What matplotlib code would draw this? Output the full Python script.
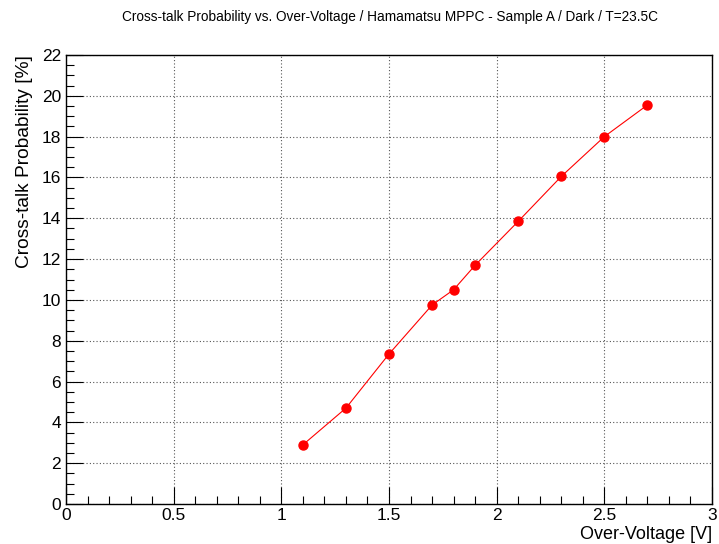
import matplotlib
matplotlib.use("Agg")
import matplotlib.pyplot as plt
from matplotlib.ticker import MultipleLocator, FuncFormatter

# Cross-talk probability vs over-voltage (Hamamatsu MPPC, sample A, dark)
over_voltage = [1.1, 1.3, 1.5, 1.7, 1.8, 1.9, 2.1, 2.3, 2.5, 2.7]
crosstalk_pct = [2.9, 4.7, 7.35, 9.75, 10.5, 11.7, 13.85, 16.05, 18.0, 19.55]

plt.rcParams["font.family"] = ["Liberation Sans", "DejaVu Sans"]

fig = plt.figure(figsize=(7.19, 5.44), dpi=100)
ax = fig.add_axes([0.0918, 0.0735, 0.8985, 0.8254])

ax.plot(over_voltage, crosstalk_pct, color="red", linewidth=0.8,
        marker="o", markersize=6.5, markerfacecolor="red", markeredgecolor="red")

ax.set_xlim(0, 3)
ax.set_ylim(0, 22)
ax.xaxis.set_major_locator(MultipleLocator(0.5))
ax.xaxis.set_minor_locator(MultipleLocator(0.1))
ax.yaxis.set_major_locator(MultipleLocator(2))
ax.yaxis.set_minor_locator(MultipleLocator(0.5))
ax.xaxis.set_major_formatter(FuncFormatter(lambda v, p: f"{v:g}"))

ax.tick_params(which="both", direction="in", top=False, right=False, labelsize=12.5, width=0.8)
ax.tick_params(which="major", length=12)
ax.tick_params(which="minor", length=6)
ax.tick_params(axis="x", pad=3)

ax.grid(True, which="major", linestyle=(0, (1, 2)), color="#555555", linewidth=0.8)

for s in ax.spines.values():
    s.set_linewidth(1.0)

ax.set_ylabel("Cross-talk Probability [%]", fontsize=13.8, loc="top", labelpad=6)
fig.text(0.99, 0.018, "Over-Voltage [V]", ha="right", va="center", fontsize=13)

fig.text(0.542, 0.969, "Cross-talk Probability vs. Over-Voltage / Hamamatsu MPPC - Sample A / Dark / T=23.5C",
         ha="center", va="center", fontsize=9.8)

fig.savefig("out.png", dpi=100)
